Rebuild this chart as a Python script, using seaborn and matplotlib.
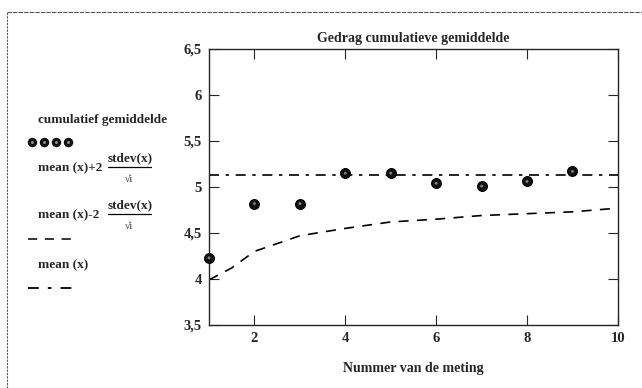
import matplotlib
matplotlib.use("Agg")
import matplotlib.pyplot as plt
from matplotlib.lines import Line2D
import seaborn as sns
import pandas as pd

# data
meting = [1, 2, 3, 4, 5, 6, 7, 8, 9]
cum_gem = [4.23, 4.82, 4.82, 5.15, 5.15, 5.04, 5.01, 5.06, 5.17]
n_lower = [1, 1.5, 2, 3, 4, 5, 6, 7, 8, 9, 10]
lower = [3.99, 4.12, 4.30, 4.47, 4.55, 4.62, 4.65, 4.69, 4.71, 4.73, 4.77]
mean_x = [1, 10]
mean_y = [5.13, 5.13]
xticks = [2, 4, 6, 8, 10]
yticks = [3.5, 4, 4.5, 5, 5.5, 6, 6.5]
ylabels = ["3,5", "4", "4,5", "5", "5,5", "6", "6,5"]

sns.set_style("ticks")
plt.rcParams['font.family'] = ['Liberation Serif', 'DejaVu Serif']
plt.rcParams['font.weight'] = 'bold'

fig = plt.figure(figsize=(6.42, 3.88), dpi=100)
ax = fig.add_axes([0.3255, 0.1624, 0.637, 0.7113])

df_pts = pd.DataFrame({"n": meting, "g": cum_gem})
df_low = pd.DataFrame({"n": n_lower, "v": lower})
df_mean = pd.DataFrame({"n": mean_x, "v": mean_y})

sns.lineplot(data=df_low, x="n", y="v", ax=ax, color="black", lw=1.2,
             linestyle=(0, (6, 5)))
sns.lineplot(data=df_mean, x="n", y="v", ax=ax, color="black", lw=1.2,
             linestyle=(0, (6, 4, 2, 4)))
sns.scatterplot(data=df_pts, x="n", y="g", ax=ax, color="#111111", s=50,
                edgecolor="black", linewidth=0.8, zorder=5, clip_on=False)
sns.scatterplot(data=df_pts, x="n", y="g", ax=ax, color="#888888", s=4,
                edgecolor="none", zorder=6, clip_on=False)

ax.set_xlim(1, 10)
ax.set_ylim(3.5, 6.5)
ax.set_xticks(xticks)
ax.set_yticks(yticks)
ax.set_yticklabels(ylabels)
ax.tick_params(direction="in", length=7, width=0.8, top=True, right=True,
               labelsize=10.5, pad=5)
for lab in ax.get_xticklabels() + ax.get_yticklabels():
    lab.set_fontweight("bold")
for s in ax.spines.values():
    s.set_linewidth(1.0)
ax.set_xlabel("Nummer van de meting", fontsize=10, fontweight="bold", labelpad=12)
ax.set_ylabel("")
ax.set_title("Gedrag cumulatieve gemiddelde", fontsize=10, fontweight="bold", pad=5)

# left-side legend
fs = 9.5
T = fig.transFigure


def fy(py):
    return 1 - py / 388


fig.text(38 / 642, fy(120), "cumulatief gemiddelde", fontsize=fs,
         fontweight="bold", va="center")
for xx in [32, 44, 56, 68]:
    fig.add_artist(Line2D([xx / 642], [fy(142)], marker="o", color="#111111",
                          markersize=5.8, lw=0, transform=T))
    fig.add_artist(Line2D([xx / 642], [fy(142)], marker="o", color="#888888",
                          markersize=1.2, lw=0, transform=T))


def frac_label(prefix, y_main):
    fig.text(38 / 642, fy(y_main), prefix, fontsize=fs, fontweight="bold",
             va="center")
    fig.text(130 / 642, fy(y_main - 10), "stdev(x)", fontsize=fs,
             fontweight="bold", va="center", ha="center")
    fig.add_artist(Line2D([108 / 642, 151 / 642], [fy(y_main - 1)] * 2,
                          color="black", lw=0.9, transform=T))
    fig.text(129 / 642, fy(y_main + 11), "√i", fontsize=7,
             fontweight="normal", va="center", ha="center")


frac_label("mean (x)+2", 168)
frac_label("mean (x)-2", 215)
fig.add_artist(Line2D([28 / 642, 76 / 642], [fy(239)] * 2, color="black",
                      lw=1.1, linestyle=(0, (6, 5)), transform=T))
fig.text(38 / 642, fy(265), "mean (x)", fontsize=fs, fontweight="bold",
         va="center")
fig.add_artist(Line2D([28 / 642, 76 / 642], [fy(288)] * 2, color="black",
                      lw=1.3, linestyle=(0, (6, 5, 2, 5)), transform=T))

# page border lines
fig.add_artist(Line2D([7 / 642, 7 / 642], [0, fy(12)], color="#555555",
                      lw=0.8, linestyle=(0, (2, 1)), transform=T))
fig.add_artist(Line2D([7 / 642, 1], [fy(12)] * 2, color="#555555",
                      lw=0.8, linestyle=(0, (4, 1)), transform=T))

fig.savefig("out.png", dpi=100)
